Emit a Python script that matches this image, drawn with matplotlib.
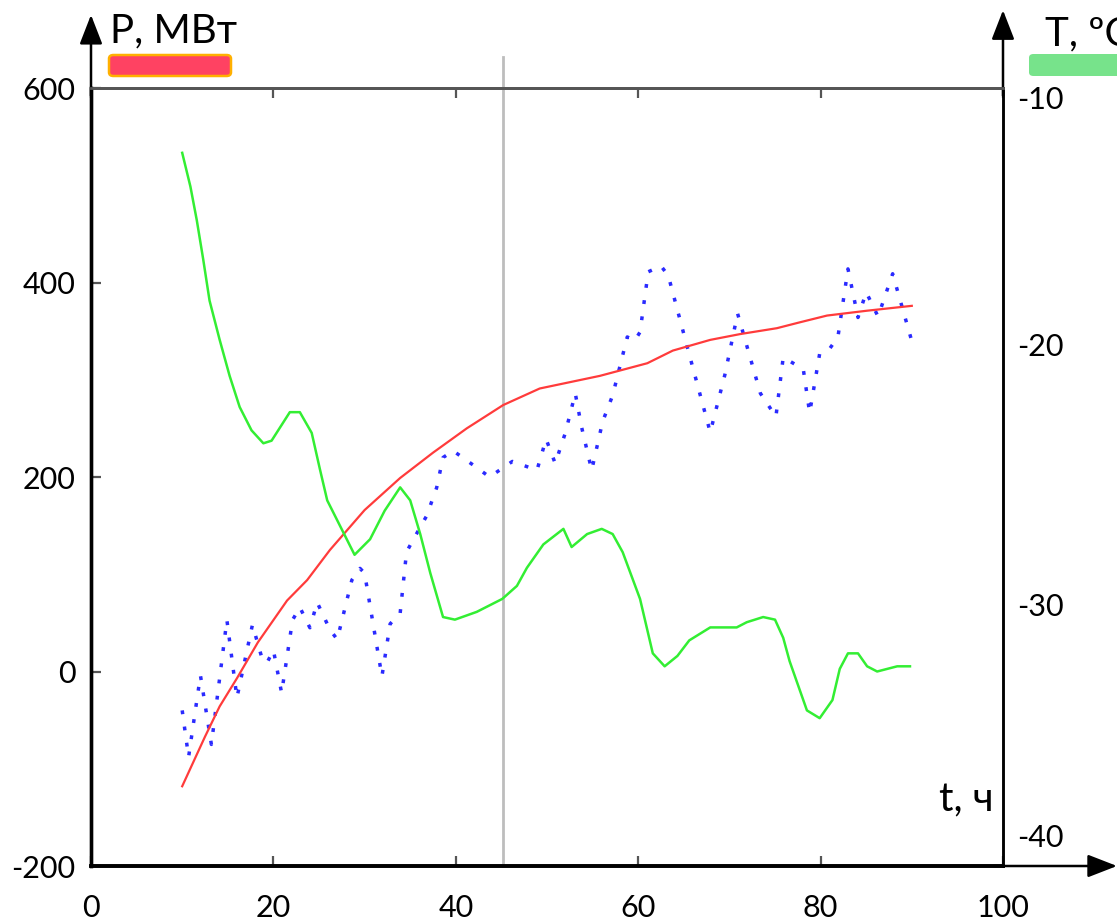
import matplotlib.pyplot as plt
from matplotlib.patches import FancyBboxPatch

# Smooth power curve, P (MW), left axis
t_p = [10.0, 12.5, 14.1, 16.0, 18.3, 21.5, 23.7, 26.2, 30.0, 33.9, 37.5,
       41.2, 45.2, 49.2, 55.8, 61.0, 63.8, 67.9, 71.2, 75.2, 77.7, 80.7,
       85.1, 90.0]
p_mw = [-118, -67, -36, -7, 30, 73, 94, 125, 166, 199, 225,
        250, 274, 291, 304, 317, 330, 341, 347, 353, 359, 366,
        371, 376]

# Measured power, dotted
t_meas = [10.0, 10.7, 12.0, 13.2, 14.9, 16.0, 17.7, 18.8, 19.3, 20.0, 20.9,
          22.1, 22.9, 24.0, 24.8, 26.2, 27.0, 28.6, 29.5, 30.0, 31.9, 32.8,
          33.9, 34.6, 35.3, 36.8, 37.9, 38.6, 39.7, 42.4, 43.7, 46.2, 48.9,
          49.9, 50.9, 52.0, 53.1, 53.8, 54.9, 56.1, 57.2, 58.8, 59.6, 60.2,
          61.1, 62.5, 63.3, 65.4, 67.9, 69.5, 70.9, 73.4, 75.1, 75.9, 78.1,
          78.8, 79.9, 81.0, 81.9, 83.0, 84.1, 85.0, 86.3, 87.9, 89.9]
p_meas = [-40, -88, -4, -75, 53, -27, 48, 12, 9, 22, -22,
          53, 66, 45, 71, 43, 33, 94, 106, 101, -5, 49,
          60, 123, 135, 160, 189, 220, 227, 209, 200, 216, 207,
          239, 214, 245, 286, 251, 207, 257, 284, 344, 340, 349,
          411, 417, 407, 333, 246, 305, 368, 286, 262, 323, 311,
          266, 327, 332, 344, 414, 364, 390, 365, 409, 343]

# Temperature, T (deg C), right axis
t_temp = [10.0, 10.9, 11.6, 12.3, 13.0, 14.1, 15.2, 16.3, 17.6, 18.9, 19.8,
          21.8, 22.9, 24.2, 25.1, 25.9, 28.9, 30.6, 32.2, 33.9, 35.0, 36.1,
          37.2, 38.6, 39.9, 42.3, 45.1, 46.7, 47.8, 49.6, 51.8, 52.7, 54.4,
          56.0, 57.2, 58.3, 60.2, 61.6, 62.9, 64.3, 65.6, 67.9, 70.8, 71.9,
          73.7, 75.0, 75.9, 76.6, 77.4, 78.5, 79.9, 81.3, 82.1, 83.0, 84.1,
          85.1, 86.2, 87.3, 88.4, 89.8]
temp_c = [-12.5, -13.8, -15.1, -16.6, -18.2, -19.7, -21.1, -22.3, -23.2,
          -23.7, -23.6, -22.5, -22.5, -23.3, -24.7, -25.9, -28.0, -27.4,
          -26.3, -25.4, -25.9, -27.2, -28.7, -30.4, -30.5, -30.2, -29.7,
          -29.2, -28.5, -27.6, -27.0, -27.7, -27.2, -27.0, -27.2, -27.9,
          -29.7, -31.8, -32.3, -31.9, -31.3, -30.8, -30.8, -30.6, -30.4,
          -30.5, -31.2, -32.1, -32.9, -34.0, -34.3, -33.6, -32.4, -31.8,
          -31.8, -32.3, -32.5, -32.4, -32.3, -32.3]

x_ticks = [0, 20, 40, 60, 80, 100]
p_ticks = [-200, 0, 200, 400, 600]
temp_ticks = [-10, -20, -30, -40]
t_marker = 45.2

FONT = ['Lato', 'Open Sans', 'DejaVu Sans']
plt.rcParams['font.family'] = FONT
plt.rcParams['axes.unicode_minus'] = False

W, H = 1117, 923
fig = plt.figure(figsize=(W / 100, H / 100), dpi=100)
ax = fig.add_axes((91 / W, (H - 866) / H, 912 / W, 778 / H))

ax.plot(t_p, p_mw, color='#ff3b3b', lw=1.6, zorder=3)
ax.plot(t_meas, p_meas, color='#2a2aff', lw=2.5, dashes=(1.1, 3.6), zorder=2)
ax.axvline(t_marker, ymin=0, ymax=1.04, color='#bdbdbd', lw=2,
           clip_on=False, zorder=1)

ax.set_xlim(0, 100)
ax.set_ylim(-200, 600)
ax.set_xticks(x_ticks)
ax.set_yticks(p_ticks)
ax.tick_params(axis='x', direction='in', length=7, width=1.6, color='#555555',
               top=True, labelsize=22, pad=20)
ax.tick_params(axis='y', direction='in', length=7, width=1.6, color='#555555',
               labelsize=22, pad=11)

ax2 = ax.twinx()
ax2.plot(t_temp, temp_c, color='#33ee33', lw=1.8)
ax2.set_ylim(-40, -10)
ax2.set_yticks([])
for v in temp_ticks:
    # end labels sit inside the axis range
    dy = -12 if v == max(temp_ticks) else (28 if v == min(temp_ticks) else 0)
    ax2.annotate(str(v), xy=(1, v), xycoords=ax2.get_yaxis_transform(),
                 xytext=(14, dy), textcoords='offset pixels',
                 ha='left', va='center', fontsize=22, annotation_clip=False)

for a in (ax, ax2):
    a.spines['left'].set_linewidth(2.4)
    a.spines['left'].set_color('black')
    a.spines['bottom'].set_linewidth(2.6)
    a.spines['bottom'].set_color('black')
    a.spines['top'].set_linewidth(2.0)
    a.spines['top'].set_color('#555555')
    a.spines['right'].set_linewidth(1.8)
    a.spines['right'].set_color('black')

# axis arrows
arrow = dict(arrowstyle='-|>,head_length=0.9,head_width=0.35', color='black',
             lw=1.8, shrinkA=0, shrinkB=0, mutation_scale=20)
ax.annotate('', xy=(0, 1.094), xytext=(0, 0.99), xycoords='axes fraction',
            arrowprops=arrow, annotation_clip=False)
ax.annotate('', xy=(1, 1.10), xytext=(1, 0.99), xycoords='axes fraction',
            arrowprops=arrow, annotation_clip=False)
ax.annotate('', xy=(1.125, 0), xytext=(0.99, 0), xycoords='axes fraction',
            arrowprops=arrow, annotation_clip=False)

# axis titles and colour keys
fig.text(110 / W, 1 - 42 / H, 'P, МВт', fontsize=29, ha='left',
         va='baseline', family=FONT)
fig.text(1045 / W, 1 - 45 / H, 'T, ºC', fontsize=29, ha='left',
         va='baseline', family=FONT)
ax.text(0.99, 0.07, 't, ч', transform=ax.transAxes, fontsize=29,
        ha='right', va='baseline', family=FONT)

fig.add_artist(FancyBboxPatch((109 / W, 1 - 76 / H), 122 / W, 21 / H,
                              boxstyle='round,pad=0,rounding_size=0.004',
                              transform=fig.transFigure, facecolor='#ff4262',
                              edgecolor='#ffb000', lw=1.8))
fig.add_artist(FancyBboxPatch((1029 / W, 1 - 76 / H), 120 / W, 22 / H,
                              boxstyle='round,pad=0,rounding_size=0.004',
                              transform=fig.transFigure, facecolor='#77e38b',
                              edgecolor='none'))

fig.savefig('out.png', dpi=100)
